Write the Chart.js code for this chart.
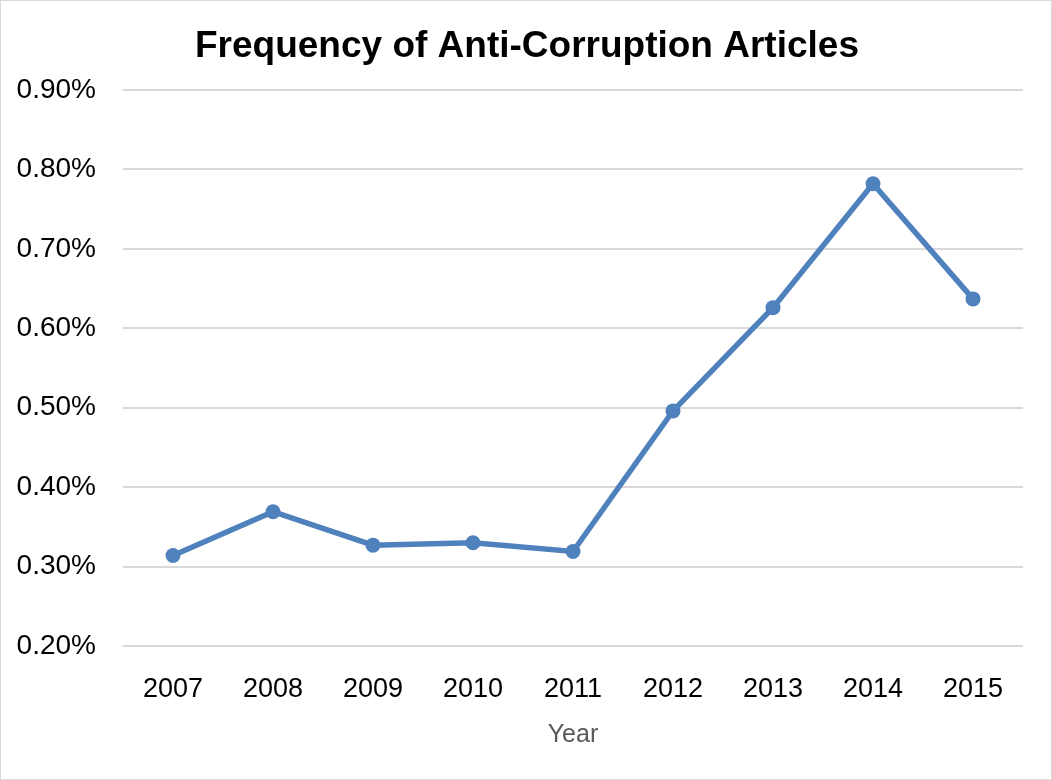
<!DOCTYPE html>
<html>
<head>
<meta charset="utf-8">
<script src="https://cdn.jsdelivr.net/npm/chart.js@4/dist/chart.umd.min.js"></script>
<style>
  html, body { margin: 0; padding: 0; background: #fff; }
  #wrap { width: 1052px; height: 780px; box-sizing: border-box; border: 1px solid #d9d9d9; }
  canvas { display: block; }
</style>
</head>
<body>
<div id="wrap"><canvas id="c" width="1050" height="778"></canvas></div>
<script>
const years = ['2007', '2008', '2009', '2010', '2011', '2012', '2013', '2014', '2015'];
const frequency = [0.314, 0.369, 0.327, 0.330, 0.319, 0.496, 0.626, 0.782, 0.637];
const yTicks = [0.2, 0.3, 0.4, 0.5, 0.6, 0.7, 0.8, 0.9];
const titleText = 'Frequency of Anti-Corruption Articles';
const xTitle = 'Year';

const FONT = "'Liberation Sans', Arial, sans-serif";

const centeredTitle = {
  id: 'centeredTitle',
  afterDraw(chart) {
    const ctx = chart.ctx;
    ctx.save();
    ctx.font = "bold 37px " + FONT;
    ctx.fillStyle = '#000';
    ctx.textAlign = 'center';
    ctx.textBaseline = 'middle';
    ctx.fillText(titleText, chart.width / 2 + 1, 46);
    ctx.restore();
  }
};

new Chart(document.getElementById('c'), {
  type: 'line',
  data: {
    labels: years,
    datasets: [{
      data: frequency,
      borderColor: '#4F81BD',
      backgroundColor: '#4F81BD',
      borderWidth: 5.5,
      pointRadius: 7.5,
      pointHoverRadius: 7.5,
      pointBorderWidth: 0,
      tension: 0
    }]
  },
  plugins: [centeredTitle],
  options: {
    responsive: false,
    animation: false,
    layout: { padding: { left: 0, right: 28, top: 89, bottom: 0 } },
    plugins: {
      legend: { display: false },
      tooltip: { enabled: false },
      title: { display: false }
    },
    scales: {
      x: {
        offset: true,
        grid: { display: false, drawTicks: false },
        border: { display: false },
        ticks: { color: '#000', font: { family: FONT, size: 27 }, padding: 27, maxRotation: 0 },
        title: {
          display: true,
          text: xTitle,
          color: '#595959',
          font: { family: FONT, size: 25, lineHeight: 1.2 },
          padding: { top: 0, bottom: 29 }
        },
        afterFit: (s) => { s.height = 133; }
      },
      y: {
        min: 0.2,
        max: 0.9,
        afterBuildTicks: (s) => { s.ticks = yTicks.map(v => ({ value: v })); },
        grid: { color: '#d9d9d9', lineWidth: 2, drawTicks: false },
        border: { display: false },
        ticks: {
          color: '#000',
          font: { family: FONT, size: 28 },
          padding: 27,
          callback: (v) => Number(v).toFixed(2) + '%'
        },
        afterFit: (s) => { s.width = 122; }
      }
    }
  }
});
</script>
</body>
</html>
